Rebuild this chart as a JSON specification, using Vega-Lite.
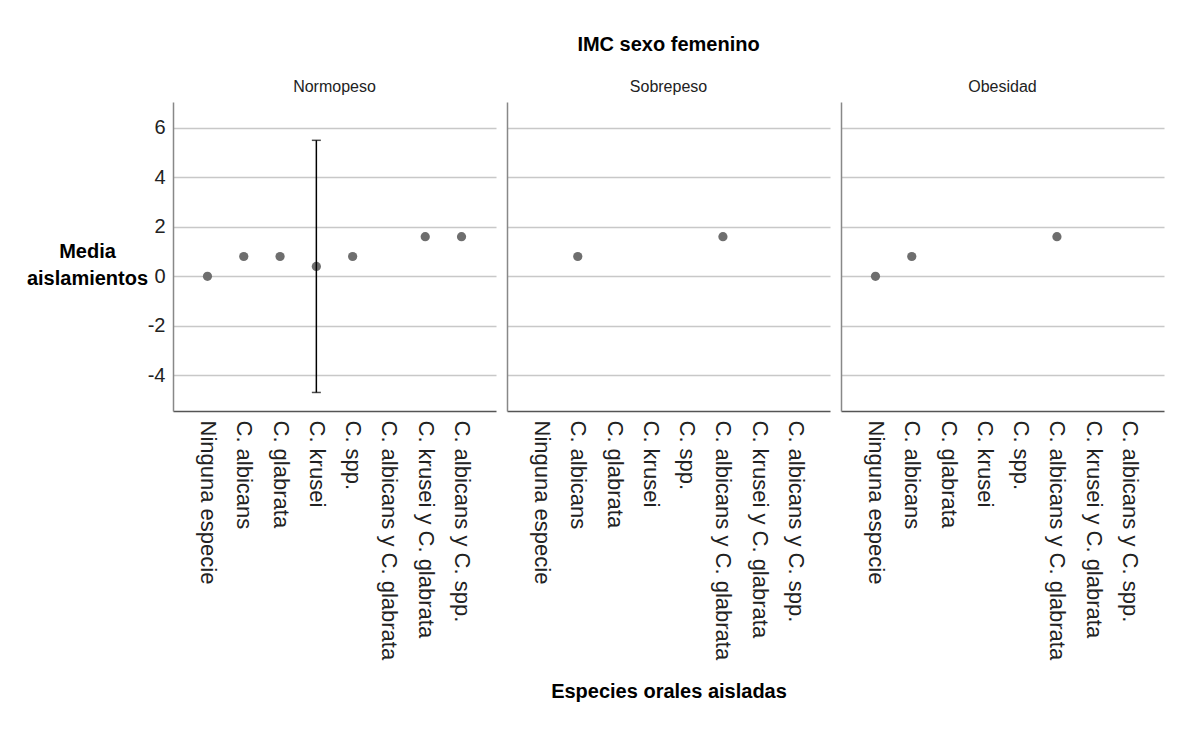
{
  "$schema": "https://vega.github.io/schema/vega-lite/v6.json",
  "background": "white",
  "padding": {"left": 26, "top": 35, "right": 5, "bottom": 5},
  "bounds": "flush",
  "spacing": 11,
  "data": {
    "values": [
      {"imc": "Normopeso", "especie": "Ninguna especie", "media": 0},
      {"imc": "Normopeso", "especie": "C. albicans", "media": 0.8},
      {"imc": "Normopeso", "especie": "C. glabrata", "media": 0.8},
      {"imc": "Normopeso", "especie": "C. krusei", "media": 0.4, "lo": -4.7, "hi": 5.5},
      {"imc": "Normopeso", "especie": "C. spp.", "media": 0.8},
      {"imc": "Normopeso", "especie": "C. krusei y C. glabrata", "media": 1.6},
      {"imc": "Normopeso", "especie": "C. albicans y C. spp.", "media": 1.6},
      {"imc": "Sobrepeso", "especie": "C. albicans", "media": 0.8},
      {"imc": "Sobrepeso", "especie": "C. albicans y C. glabrata", "media": 1.6},
      {"imc": "Obesidad", "especie": "Ninguna especie", "media": 0},
      {"imc": "Obesidad", "especie": "C. albicans", "media": 0.8},
      {"imc": "Obesidad", "especie": "C. albicans y C. glabrata", "media": 1.6}
    ]
  },
  "hconcat": [
    {
      "width": 323, "height": 309,
      "title": {"text": "Normopeso"},
      "transform": [{"filter": "datum.imc === 'Normopeso'"}],
      "layer": [
        {
          "mark": {"type": "point", "filled": true, "size": 85, "color": "#6e6e6e", "opacity": 1},
          "encoding": {
            "x": {"field": "especie", "type": "nominal",
              "scale": {"type": "point", "padding": 0.95, "domain": ["Ninguna especie", "C. albicans", "C. glabrata", "C. krusei", "C. spp.", "C. albicans y C. glabrata", "C. krusei y C. glabrata", "C. albicans y C. spp."]},
              "axis": {"title": null}},
            "y": {"field": "media", "type": "quantitative",
              "scale": {"domain": [-5.45, 7.05], "nice": false, "zero": false},
              "axis": {"labels": true, "labelFontSize": 20, "labelPadding": 8, "labelExpr": "'' + datum.value",
                "title": ["Media", "aislamientos"], "titleAngle": 0, "titleAlign": "center", "titleBaseline": "alphabetic",
                "titleX": -86, "titleY": 155, "titleFontSize": 20, "titleFontWeight": "bold", "titleLineHeight": 27}}
          }
        },
        {
          "transform": [{"filter": "isValid(datum.lo)"}],
          "mark": {"type": "rule", "color": "black", "strokeWidth": 1.5},
          "encoding": {
            "x": {"field": "especie", "type": "nominal"},
            "y": {"field": "lo", "type": "quantitative"},
            "y2": {"field": "hi"}
          }
        },
        {
          "transform": [{"filter": "isValid(datum.lo)"}],
          "mark": {"type": "tick", "color": "black", "size": 9, "thickness": 1.5, "orient": "horizontal"},
          "encoding": {
            "x": {"field": "especie", "type": "nominal"},
            "y": {"field": "lo", "type": "quantitative"}
          }
        },
        {
          "transform": [{"filter": "isValid(datum.hi)"}],
          "mark": {"type": "tick", "color": "black", "size": 9, "thickness": 1.5, "orient": "horizontal"},
          "encoding": {
            "x": {"field": "especie", "type": "nominal"},
            "y": {"field": "hi", "type": "quantitative"}
          }
        }
      ]
    },
    {
      "width": 323, "height": 309,
      "title": {"text": "IMC sexo femenino", "subtitle": "Sobrepeso", "fontSize": 20, "fontWeight": "bold", "color": "black",
        "subtitleFont": "Liberation Sans", "subtitleFontSize": 16, "subtitleColor": "#222", "subtitlePadding": 24},
      "transform": [{"filter": "datum.imc === 'Sobrepeso'"}],
      "mark": {"type": "point", "filled": true, "size": 85, "color": "#6e6e6e", "opacity": 1},
      "encoding": {
        "x": {"field": "especie", "type": "nominal",
          "scale": {"type": "point", "padding": 0.95, "domain": ["Ninguna especie", "C. albicans", "C. glabrata", "C. krusei", "C. spp.", "C. albicans y C. glabrata", "C. krusei y C. glabrata", "C. albicans y C. spp."]},
          "axis": {"title": "Especies orales aisladas", "titleFontSize": 20, "titleFontWeight": "bold", "titlePadding": 70, "titleColor": "black"}},
        "y": {"field": "media", "type": "quantitative",
          "scale": {"domain": [-5.45, 7.05], "nice": false, "zero": false},
          "axis": {"labels": false, "title": null}}
      }
    },
    {
      "width": 323, "height": 309,
      "title": {"text": "Obesidad"},
      "transform": [{"filter": "datum.imc === 'Obesidad'"}],
      "mark": {"type": "point", "filled": true, "size": 85, "color": "#6e6e6e", "opacity": 1},
      "encoding": {
        "x": {"field": "especie", "type": "nominal",
          "scale": {"type": "point", "padding": 0.95, "domain": ["Ninguna especie", "C. albicans", "C. glabrata", "C. krusei", "C. spp.", "C. albicans y C. glabrata", "C. krusei y C. glabrata", "C. albicans y C. spp."]},
          "axis": {"title": null}},
        "y": {"field": "media", "type": "quantitative",
          "scale": {"domain": [-5.45, 7.05], "nice": false, "zero": false},
          "axis": {"labels": false, "title": null}}
      }
    }
  ],
  "resolve": {"scale": {"y": "independent", "x": "independent"}, "axis": {"y": "independent"}},
  "config": {
    "font": "Liberation Sans",
    "view": {"stroke": null},
    "title": {"font": "Liberation Sans", "fontSize": 16, "fontWeight": "normal", "color": "#222", "offset": 7, "anchor": "middle"},
    "axisX": {"labelAngle": 90, "labelAlign": "left", "labelBaseline": "middle", "labelFontSize": 22, "labelColor": "#222", "labelPadding": 9, "ticks": false, "domainColor": "#555", "domainWidth": 1.5, "grid": false, "labelLimit": 400, "labelFont": "Liberation Sans", "titleFont": "Liberation Sans"},
    "axisY": {"values": [-4, -2, 0, 2, 4, 6], "ticks": false, "labelColor": "#222", "labelFont": "Liberation Sans", "titleFont": "Liberation Sans", "titleColor": "black", "domainColor": "#888", "domainWidth": 1.5, "grid": true, "gridColor": "#c8c8c8", "gridWidth": 1.5}
  }
}
